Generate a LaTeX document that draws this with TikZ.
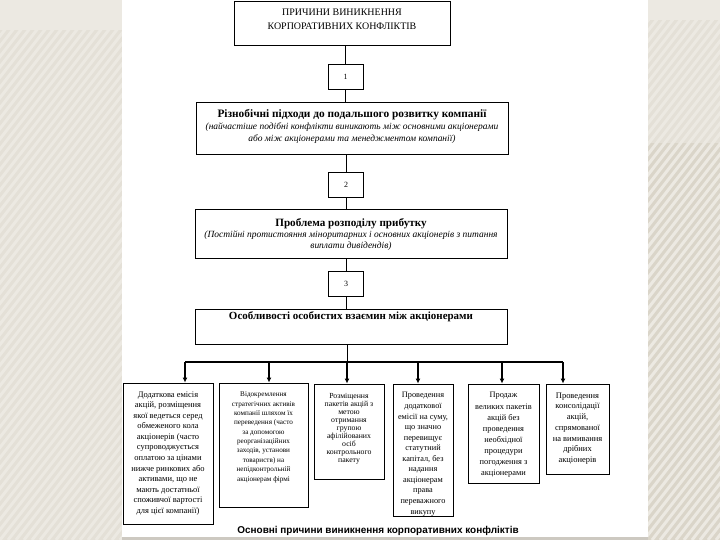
\documentclass[tikz,border=0pt]{standalone}
\usepackage{fontspec}
\setmainfont{Liberation Serif}
\setsansfont{Liberation Sans}
\usetikzlibrary{arrows.meta}
\definecolor{bgbase}{HTML}{E4E0D7}
\definecolor{bgtop}{HTML}{ECE9E2}
\definecolor{bgdark}{HTML}{DAD5C9}
\definecolor{stripecol}{HTML}{ECE9E2}
\definecolor{strip}{HTML}{CDC9C1}
\newcommand\mkcell[4]{\begin{minipage}[c][#2][t]{#1}\centering\vspace*{#3}#4\end{minipage}}
\tikzset{
  cellbox/.style={draw=black, line width=0.9bp, inner sep=0pt, fill=white},
  numbox/.style={draw=black, line width=0.9bp, inner sep=0pt, minimum width=35bp, minimum height=25bp, font=\fontsize{8}{9}\selectfont},
  conn/.style={draw=black, line width=1bp},
  bus/.style={draw=black, line width=1.3bp},
  arr/.style={draw=black, line width=1.5bp, -{Latex[length=5bp,width=5bp]}},
  stripe/.style={draw=stripecol, line width=3bp}
}
\begin{document}
\begin{tikzpicture}[x=1bp,y=-1bp]
\useasboundingbox (0,0) rectangle (720,540);
% background
\fill[bgbase] (0,0) rectangle (122,540);
\fill[bgtop] (0,0) rectangle (122,30);
\begin{scope}
\clip (0,30) rectangle (122,540);
\foreach \i in {-440,-432,...,130} \draw[stripe] (\i,540) -- ++(420,-540);
\end{scope}
\fill[bgtop] (648,0) rectangle (720,20);
\fill[bgbase] (648,20) rectangle (720,143);
\fill[bgdark] (648,143) rectangle (720,540);
\begin{scope}
\clip (648,20) rectangle (720,540);
\foreach \i in {220,228,...,728} \draw[stripe] (\i,540) -- ++(420,-540);
\end{scope}
\fill[white] (122,0) rectangle (648,537);
\fill[strip] (122,537) rectangle (648,540);

% top boxes
\node[cellbox] (title) at (342,23) {\mkcell{216bp}{44bp}{7.5bp}{\fontsize{10}{15}\selectfont ПРИЧИНИ ВИНИКНЕННЯ\\КОРПОРАТИВНИХ КОНФЛІКТІВ}};
\node[numbox] (n1) at (345.5,76.5) {1};
\node[cellbox] (A) at (352,128) {\mkcell{312bp}{52bp}{7.5bp}{{\bfseries\fontsize{11.4}{12}\selectfont Різнобічні підходи до подальшого розвитку компанії\par}{\itshape\fontsize{9.5}{12}\selectfont (найчастіше подібні конфлікти виникають між основними акціонерами\\ або між акціонерами та менеджментом компанії)\par}}};
\node[numbox] (n2) at (346,184.5) {2};
\node[cellbox] (B) at (351,233.5) {\mkcell{312bp}{49bp}{10bp}{{\bfseries\fontsize{11.2}{12}\selectfont Проблема розподілу прибутку\par}{\itshape\fontsize{9.5}{11}\selectfont (Постійні протистояння міноритарних і основних акціонерів з питання\\ виплати дивідендів)\par}}};
\node[numbox] (n3) at (346,284) {3};
\node[cellbox] (C) at (351,326.5) {\mkcell{312bp}{35bp}{3bp}{{\bfseries\fontsize{11}{12}\selectfont Особливості особистих взаємин між акціонерами\par}}};

% bottom boxes
\node[cellbox] (d1) at (168,453.5) {\mkcell{90bp}{141bp}{8.5bp}{\fontsize{8.5}{10.6}\selectfont Додаткова емісія\\ акцій, розміщення\\ якої ведеться серед\\ обмеженого кола\\ акціонерів (часто\\ супроводжується\\ оплатою за цінами\\ нижче ринкових або\\ активами, що не\\ мають достатньої\\ споживчої вартості\\ для цієї компанії)}};
\node[cellbox] (d2) at (263.5,445) {\mkcell{89bp}{124bp}{9bp}{\fontsize{7.2}{9.4}\selectfont Відокремлення\\ стратегічних активів\\ компанії шляхом їх\\ переведення (часто\\ за допомогою\\ реорганізаційних\\ заходів, установи\\ товариств) на\\ непідконтрольній\\ акціонерам фірмі}};
\node[cellbox] (d3) at (349,431.5) {\mkcell{70bp}{95bp}{9bp}{\fontsize{7.8}{8.1}\selectfont Розміщення\\ пакетів акцій з\\ метою\\ отримання\\ групою\\ афілійованих\\ осіб\\ контрольного\\ пакету}};
\node[cellbox] (d4) at (423,450) {\mkcell{60bp}{132bp}{8.5bp}{\fontsize{8.3}{10.6}\selectfont Проведення\\ додаткової\\ емісії на суму,\\ що значно\\ перевищує\\ статутний\\ капітал, без\\ надання\\ акціонерам\\ права\\ переважного\\ викупу}};
\node[cellbox] (d5) at (503.5,433.5) {\mkcell{71bp}{99bp}{8.5bp}{\fontsize{8.4}{11.1}\selectfont Продаж\\ великих пакетів\\ акцій без\\ проведення\\ необхідної\\ процедури\\ погодження з\\ акціонерами}};
\node[cellbox] (d6) at (577.5,429) {\mkcell{63bp}{90bp}{8.5bp}{\fontsize{8.5}{10.8}\selectfont Проведення\\ консолідації\\ акцій,\\ спрямованої\\ на вимивання\\ дрібних\\ акціонерів}};

% connectors
\draw[conn] (n1.north) -- (n1.north |- title.south);
\draw[conn] (n1.south) -- (n1.south |- A.north);
\draw[conn] (n2.north) -- (n2.north |- A.south);
\draw[conn] (n2.south) -- (n2.south |- B.north);
\draw[conn] (n3.north) -- (n3.north |- B.south);
\draw[conn] (n3.south) -- (n3.south |- C.north);
\coordinate (a1) at (185,362);
\coordinate (a2) at (269,362);
\coordinate (a3) at (347,362);
\coordinate (a4) at (418,362);
\coordinate (a5) at (502,362);
\coordinate (a6) at (563,362);
\draw[conn] (C.south -| a3) -- (a3);
\draw[bus] (a1) -- (a6);
\draw[arr] (a1) -- (a1 |- d1.north);
\draw[arr] (a2) -- (a2 |- d2.north);
\draw[arr] (a3) -- (a3 |- d3.north);
\draw[arr] (a4) -- (a4 |- d4.north);
\draw[arr] (a5) -- (a5 |- d5.north);
\draw[arr] (a6) -- (a6 |- d6.north);

\node[font=\sffamily\bfseries\fontsize{10}{12}\selectfont, inner sep=0pt] (cap) at (378,531) {Основні причини виникнення корпоративних конфліктів};
\end{tikzpicture}
\end{document}
